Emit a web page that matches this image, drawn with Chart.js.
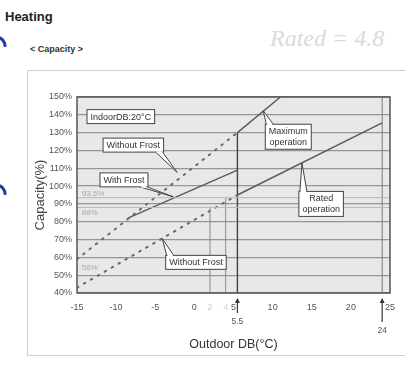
<!DOCTYPE html>
<html>
<head>
<meta charset="utf-8">
<script src="https://cdn.jsdelivr.net/npm/chart.js@4.4.1/dist/chart.umd.min.js"></script>
<style>
  html, body { margin: 0; padding: 0; background: #fff; }
  body { width: 405px; height: 366px; position: relative; overflow: hidden; font-family: "Liberation Sans", Arial, sans-serif; }
  #frame { position: absolute; left: 27px; top: 70px; width: 400px; height: 284px; border: 1px solid #cfcfcf; }
  .t { position: absolute; white-space: nowrap; }
  #heading { left: 5px; top: 9px; font-size: 13px; font-weight: bold; color: #222; }
  #sub { left: 30px; top: 44px; font-size: 9px; font-weight: bold; color: #333; }
  #note { left: 270px; top: 25px; font-size: 24px; font-style: italic; font-family: "Liberation Serif", serif; color: #dadada; }
  canvas { position: absolute; left: 0; top: 0; }
</style>
</head>
<body>
<div id="frame"></div>
<div class="t" id="heading">Heating</div>
<div class="t" id="sub">&lt; Capacity &gt;</div>
<div class="t" id="note">Rated = 4.8</div>
<canvas id="c" width="405" height="366"></canvas>
<script>
// axis ticks
const xTicks = [-15, -10, -5, 0, 5, 10, 15, 20, 25];
const yTicks = [40, 50, 60, 70, 80, 90, 100, 110, 120, 130, 140, 150];

// curves (outdoor DB °C, capacity %)
const withoutFrostUpper = [{x: -15, y: 59}, {x: 5.5, y: 130}];
const withoutFrostLower = [{x: -15, y: 43}, {x: 5.5, y: 95}];
const withFrost = [{x: -8.5, y: 82}, {x: 5.5, y: 109}];
const maxOperation = [{x: 5.5, y: 130}, {x: 11, y: 150}];
const maxLimit = [{x: 5.5, y: 40}, {x: 5.5, y: 130}];
const ratedOperation = [{x: 5.5, y: 95}, {x: 24, y: 135.5}];
const ratedLimit = [{x: 24, y: 40}, {x: 24, y: 150}];
const mark2 = [{x: 2, y: 40}, {x: 2, y: 88}];
const mark4 = [{x: 4, y: 40}, {x: 4, y: 93.5}];
const ref935 = [{x: -15, y: 93.5}, {x: 25, y: 93.5}];
const ref88 = [{x: -15, y: 88}, {x: 25, y: 88}];

// callouts: text lines, box centre and pointer tip in data units
const callouts = [
  {lines: ['IndoorDB:20\u00b0C'], cx: -9.4, cy: 139},
  {lines: ['Without Frost'], cx: -7.8, cy: 123, tx: -2.2, ty: 107.7},
  {lines: ['With Frost'], cx: -9.0, cy: 103.5, tx: -2.7, ty: 94},
  {lines: ['Maximum', 'operation'], cx: 12.0, cy: 127.7, tx: 8.8, ty: 142.3},
  {lines: ['Rated', 'operation'], cx: 16.2, cy: 90, tx: 13.75, ty: 113},
  {lines: ['Without Frost'], cx: 0.2, cy: 57.2, tx: -4.1, ty: 70.5}
];
const handNotes = [{text: '93.5%', x: -14.4, y: 95.5}, {text: '88%', x: -14.4, y: 85}, {text: '56%', x: -14.4, y: 54}];
const arrowMarks = [{x: 5.5, label: '5.5', len: 15}, {x: 24, label: '24', len: 24}];
const faintTicks = [2, 4];

const dark = '#5a5a5a';
const dotted = {borderDash: [1.5, 6.5], borderCapStyle: 'round', borderWidth: 2, borderColor: '#6a6a6a'};
function line(data, extra) {
  return Object.assign({data: data, showLine: true, pointRadius: 0, borderColor: dark, borderWidth: 1.4, fill: false}, extra || {});
}

const paper = {
  id: 'paper',
  beforeDraw(chart) {
    const {ctx, chartArea: a} = chart;
    ctx.save();
    ctx.fillStyle = '#e8e8e8';
    ctx.fillRect(a.left, a.top, a.right - a.left, a.bottom - a.top);
    // binder holes on the scan edge
    ctx.strokeStyle = '#1f3f9e';
    ctx.lineWidth = 3;
    [38, 186].forEach(y => { ctx.beginPath(); ctx.arc(-4, y + 8, 9, -Math.PI / 2.2, 0.1); ctx.stroke(); });
    ctx.restore();
  },
  afterDatasetsDraw(chart) {
    const {ctx, chartArea: a, scales: {x, y}} = chart;
    ctx.save();
    ctx.strokeStyle = '#555';
    ctx.lineWidth = 1.5;
    ctx.strokeRect(a.left, a.top, a.right - a.left, a.bottom - a.top);

    // handwritten notes
    ctx.fillStyle = '#a9a9a9';
    ctx.font = '8px "Liberation Sans"';
    ctx.textBaseline = 'middle';
    handNotes.forEach(n => ctx.fillText(n.text, x.getPixelForValue(n.x), y.getPixelForValue(n.y)));
    ctx.fillStyle = '#cfcfcf';
    ctx.textAlign = 'center';
    ctx.font = '9px "Liberation Sans"';
    faintTicks.forEach(v => ctx.fillText(String(v), x.getPixelForValue(v), a.bottom + 15));

    // arrows under the axis
    ctx.strokeStyle = '#333';
    ctx.fillStyle = '#333';
    ctx.lineWidth = 1.2;
    arrowMarks.forEach(m => {
      const px = x.getPixelForValue(m.x);
      const top = a.bottom + 5;
      ctx.beginPath(); ctx.moveTo(px, top + 2); ctx.lineTo(px, top + m.len); ctx.stroke();
      ctx.beginPath(); ctx.moveTo(px, top); ctx.lineTo(px - 2.5, top + 5); ctx.lineTo(px + 2.5, top + 5); ctx.closePath(); ctx.fill();
      ctx.fillStyle = '#555';
      ctx.font = '8.5px "Liberation Sans"';
      ctx.fillText(m.label, px, top + m.len + 9);
      ctx.fillStyle = '#333';
    });

    // callouts
    ctx.font = '9px "Liberation Sans"';
    callouts.forEach(c => {
      const cx = x.getPixelForValue(c.cx), cy = y.getPixelForValue(c.cy);
      const w = Math.max(...c.lines.map(s => ctx.measureText(s).width)) + 7;
      const h = c.lines.length * 11 + 3;
      const l = cx - w / 2, t = cy - h / 2;
      ctx.fillStyle = '#fff';
      ctx.strokeStyle = '#444';
      ctx.lineWidth = 1;
      ctx.fillRect(l, t, w, h);
      ctx.strokeRect(l, t, w, h);
      if (c.tx !== undefined) {
        const tx = x.getPixelForValue(c.tx), ty = y.getPixelForValue(c.ty);
        const bx = Math.max(l + 4, Math.min(l + w - 4, tx));
        const by = ty > cy ? t + h : t;
        const dir = Math.sign(tx - cx) || 1;
        const b1 = bx - 4 * dir, b2 = bx + 3 * dir;
        ctx.beginPath(); ctx.moveTo(b1, by); ctx.lineTo(tx, ty); ctx.lineTo(b2, by); ctx.closePath();
        ctx.fill();
        ctx.beginPath(); ctx.moveTo(b1, by); ctx.lineTo(tx, ty); ctx.lineTo(b2, by); ctx.stroke();
        ctx.beginPath(); ctx.moveTo(b1 + dir, by); ctx.lineTo(b2 - dir, by);
        ctx.strokeStyle = '#fff'; ctx.lineWidth = 1.5; ctx.stroke();
      }
      ctx.fillStyle = '#333';
      ctx.textAlign = 'center';
      c.lines.forEach((s, i) => ctx.fillText(s, cx, t + 7.5 + i * 11));
    });
    ctx.restore();
  }
};

new Chart(document.getElementById('c'), {
  type: 'scatter',
  data: {
    datasets: [
      line(ref935, {borderColor: '#b8b8b8', borderWidth: 1}),
      line(ref88, {borderColor: '#b8b8b8', borderWidth: 1}),
      line(mark2, {borderColor: '#8a8a8a', borderWidth: 1}),
      line(mark4, {borderColor: '#8a8a8a', borderWidth: 1}),
      line(ratedLimit, {borderColor: '#7a7a7a', borderWidth: 1}),
      line(withoutFrostUpper, dotted),
      line(withoutFrostLower, dotted),
      line(withFrost),
      line(maxLimit, {borderColor: '#444', borderWidth: 1.4}),
      line(maxOperation),
      line(ratedOperation)
    ]
  },
  options: {
    responsive: false,
    animation: false,
    layout: {padding: {left: 27, top: 97, right: 15, bottom: 13}},
    plugins: {legend: {display: false}, tooltip: {enabled: false}},
    scales: {
      x: {
        type: 'linear', min: -15, max: 25,
        afterFit: s => { s.height = 60; },
        afterBuildTicks: s => { s.ticks = xTicks.map(v => ({value: v})); },
        grid: {display: false, drawTicks: false},
        border: {display: false},
        ticks: {padding: 9, color: '#555', font: {size: 9, family: 'Liberation Sans'}},
        title: {display: true, text: 'Outdoor DB(\u00b0C)', color: '#333', padding: {top: 0, bottom: 1}, font: {size: 12.5, family: 'Liberation Sans'}}
      },
      y: {
        min: 40, max: 150,
        afterFit: s => { s.width = 50; },
        afterBuildTicks: s => { s.ticks = yTicks.map(v => ({value: v})); },
        grid: {color: '#959595', lineWidth: 1.2, drawTicks: false},
        border: {display: false},
        ticks: {padding: 5, color: '#555', font: {size: 9, family: 'Liberation Sans'}, callback: v => v + '%'},
        title: {display: true, text: 'Capacity(%)', color: '#444', padding: {top: 6, bottom: 0}, font: {size: 13, family: 'Liberation Sans'}}
      }
    }
  },
  plugins: [paper]
});
</script>
</body>
</html>
